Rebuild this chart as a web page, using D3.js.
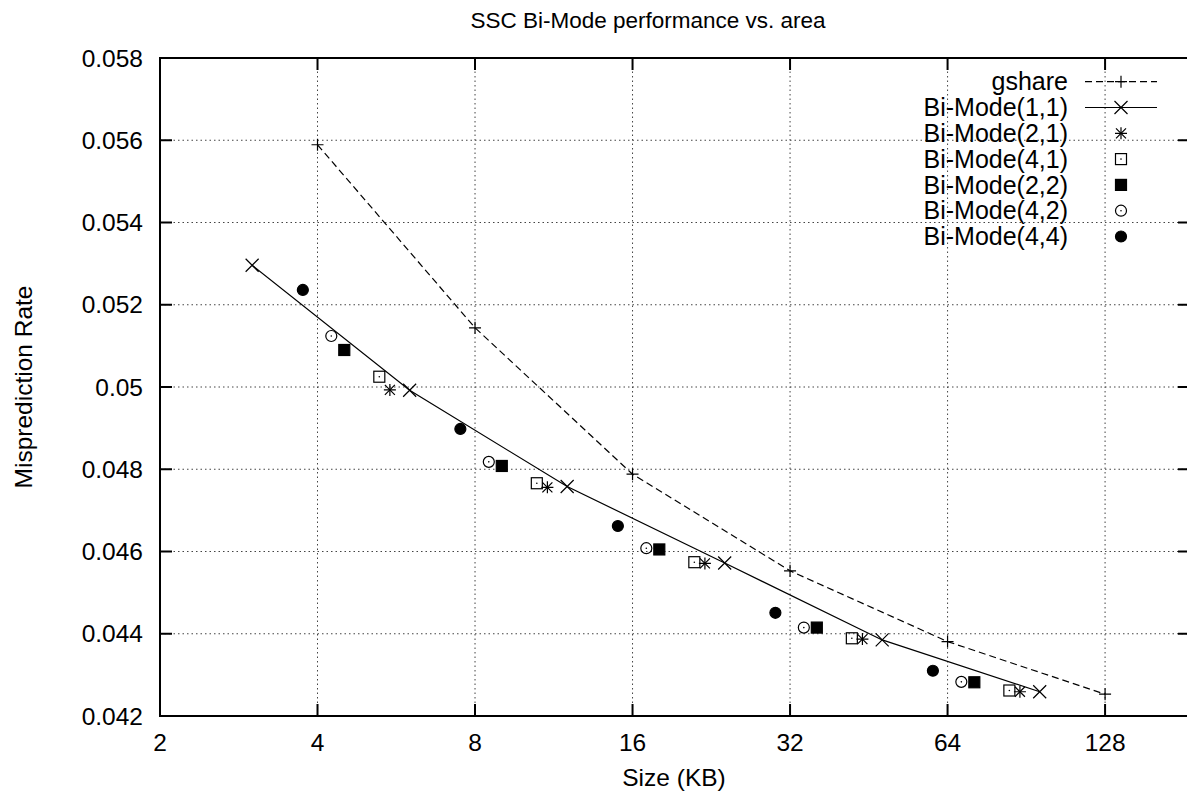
<!DOCTYPE html>
<html>
<head>
<meta charset="utf-8">
<script src="https://cdn.jsdelivr.net/npm/d3@7/dist/d3.min.js"></script>
<style>
  body { margin: 0; background: #fff; }
  text { font-family: "Liberation Sans", Arial, sans-serif; fill: #000; }
</style>
</head>
<body>
<svg id="chart" width="1187" height="799"></svg>
<script>
// predictor sizes (KB) and misprediction rates
const gshareSize = [4, 8, 16, 32, 64, 128];
const gshareRate = [0.05589, 0.05144, 0.04788, 0.04553, 0.04381, 0.04253];

const bm11Size = [3, 6, 12, 24, 48, 96];
const bm11Rate = [0.05296, 0.04992, 0.04758, 0.04572, 0.04385, 0.04259];

const bm21Size = [5.5, 11, 22, 44, 88];
const bm21Rate = [0.04993, 0.04756, 0.04571, 0.04387, 0.04259];

const bm41Size = [5.25, 10.5, 21, 42, 84];
const bm41Rate = [0.05025, 0.04766, 0.04574, 0.04389, 0.04262];

const bm22Size = [4.5, 9, 18, 36, 72];
const bm22Rate = [0.05090, 0.04808, 0.04605, 0.04415, 0.04282];

const bm42Size = [4.25, 8.5, 17, 34, 68];
const bm42Rate = [0.05124, 0.04818, 0.04608, 0.04415, 0.04283];

const bm44Size = [3.75, 7.5, 15, 30, 60];
const bm44Rate = [0.05236, 0.04898, 0.04662, 0.04451, 0.04310];

const xTicks = [2, 4, 8, 16, 32, 64, 128];
const yTicks = [0.042, 0.044, 0.046, 0.048, 0.050, 0.052, 0.054, 0.056, 0.058];

const series = [
  { name: 'gshare',       size: gshareSize, rate: gshareRate, symbol: 'plus',       line: 'dashed' },
  { name: 'Bi-Mode(1,1)', size: bm11Size,   rate: bm11Rate,   symbol: 'cross',      line: 'solid' },
  { name: 'Bi-Mode(2,1)', size: bm21Size,   rate: bm21Rate,   symbol: 'star',       line: null },
  { name: 'Bi-Mode(4,1)', size: bm41Size,   rate: bm41Rate,   symbol: 'boxDot',     line: null },
  { name: 'Bi-Mode(2,2)', size: bm22Size,   rate: bm22Rate,   symbol: 'boxFill',    line: null },
  { name: 'Bi-Mode(4,2)', size: bm42Size,   rate: bm42Rate,   symbol: 'circleDot',  line: null },
  { name: 'Bi-Mode(4,4)', size: bm44Size,   rate: bm44Rate,   symbol: 'circleFill', line: null }
];

const margin = { left: 160, top: 58, right: 1190, bottom: 716 };
const FONT = 24.5;

const svg = d3.select('#chart');

const x = d3.scaleLog().base(2).domain([2, 186]).range([margin.left, margin.right]);
const y = d3.scaleLinear().domain([0.042, 0.058]).range([margin.bottom, margin.top]);

// grid (dotted)
const grid = svg.append('g').attr('class', 'grid')
  .attr('stroke', '#444').attr('stroke-width', 1).attr('stroke-dasharray', '1.5,3');

grid.selectAll('.gx').data(xTicks.slice(1)).enter().append('line')
  .attr('x1', d => x(d)).attr('x2', d => x(d))
  .attr('y1', margin.top).attr('y2', margin.bottom);

grid.selectAll('.gy').data(yTicks.slice(1, -1)).enter().append('line')
  .attr('y1', d => y(d)).attr('y2', d => y(d))
  .attr('x1', margin.left).attr('x2', margin.right);

// frame + ticks
const frame = svg.append('g').attr('stroke', '#000').attr('stroke-width', 2).attr('fill', 'none');
frame.append('rect')
  .attr('x', margin.left).attr('y', margin.top)
  .attr('width', margin.right - margin.left).attr('height', margin.bottom - margin.top);

const TICK = 12;
xTicks.forEach(t => {
  frame.append('line').attr('x1', x(t)).attr('x2', x(t)).attr('y1', margin.bottom).attr('y2', margin.bottom - TICK);
  frame.append('line').attr('x1', x(t)).attr('x2', x(t)).attr('y1', margin.top).attr('y2', margin.top + TICK);
});
yTicks.forEach(t => {
  frame.append('line').attr('y1', y(t)).attr('y2', y(t)).attr('x1', margin.left).attr('x2', margin.left + TICK);
  frame.append('line').attr('y1', y(t)).attr('y2', y(t)).attr('x1', margin.right).attr('x2', margin.right - TICK);
});

// tick labels
svg.append('g').selectAll('text').data(xTicks).enter().append('text')
  .attr('x', d => x(d)).attr('y', 751)
  .attr('text-anchor', 'middle').style('font-size', FONT + 'px')
  .text(d => d);

const yFmt = d => String(+d.toFixed(3));
svg.append('g').selectAll('text').data(yTicks).enter().append('text')
  .attr('x', 143).attr('y', d => y(d)).attr('dy', '0.35em')
  .attr('text-anchor', 'end').style('font-size', FONT + 'px')
  .text(yFmt);

// titles
svg.append('text').attr('x', 648).attr('y', 28).attr('text-anchor', 'middle')
  .style('font-size', '22.5px').text('SSC Bi-Mode performance vs. area');
svg.append('text').attr('x', 674).attr('y', 786).attr('text-anchor', 'middle')
  .style('font-size', FONT + 'px').text('Size (KB)');
svg.append('text').attr('transform', 'translate(32,387) rotate(-90)').attr('text-anchor', 'middle')
  .style('font-size', FONT + 'px').text('Misprediction Rate');

// point symbols, gnuplot-ish
function drawSymbol(g, kind, cx, cy) {
  const s = g.append('g').attr('transform', `translate(${cx},${cy})`)
    .attr('stroke', '#000').attr('stroke-width', 1.2).attr('fill', 'none');
  const h = 6;
  if (kind === 'plus' || kind === 'star') {
    s.append('path').attr('d', `M${-h},0H${h}M0,${-h}V${h}`);
  }
  if (kind === 'cross' || kind === 'star') {
    const c = kind === 'star' ? 5 : 6.5;
    s.append('path').attr('d', `M${-c},${-c}L${c},${c}M${-c},${c}L${c},${-c}`);
  }
  if (kind === 'boxDot' || kind === 'boxFill') {
    s.append('rect').attr('x', -5.5).attr('y', -5.5).attr('width', 11).attr('height', 11)
      .attr('fill', kind === 'boxFill' ? '#000' : 'none');
  }
  if (kind === 'circleDot' || kind === 'circleFill') {
    s.append('circle').attr('r', 5.5).attr('fill', kind === 'circleFill' ? '#000' : 'none');
  }
  if (kind === 'boxDot' || kind === 'circleDot') {
    s.append('circle').attr('r', 0.8).attr('fill', '#000').attr('stroke', 'none');
  }
}

const plot = svg.append('g');
const lineGen = d3.line().x(d => x(d[0])).y(d => y(d[1]));

series.forEach(s => {
  const pts = s.size.map((v, i) => [v, s.rate[i]]);
  if (s.line) {
    plot.append('path').datum(pts).attr('d', lineGen)
      .attr('fill', 'none').attr('stroke', '#000').attr('stroke-width', 1.2)
      .attr('stroke-dasharray', s.line === 'dashed' ? '7,4' : null);
  }
  pts.forEach(p => drawSymbol(plot, s.symbol, x(p[0]), y(p[1])));
});

// legend
const legend = svg.append('g');
const LEG_Y0 = 81.7, LEG_DY = 25.8;
series.forEach((s, i) => {
  const ly = LEG_Y0 + i * LEG_DY;
  legend.append('text').attr('x', 1068).attr('y', ly).attr('dy', '0.35em')
    .attr('text-anchor', 'end').style('font-size', '25px').text(s.name);
  if (s.line) {
    legend.append('line').attr('x1', 1085).attr('x2', 1157).attr('y1', ly).attr('y2', ly)
      .attr('stroke', '#000').attr('stroke-width', 1.2)
      .attr('stroke-dasharray', s.line === 'dashed' ? '7,4' : null);
  }
  drawSymbol(legend, s.symbol, 1121, ly);
});
</script>
</body>
</html>
